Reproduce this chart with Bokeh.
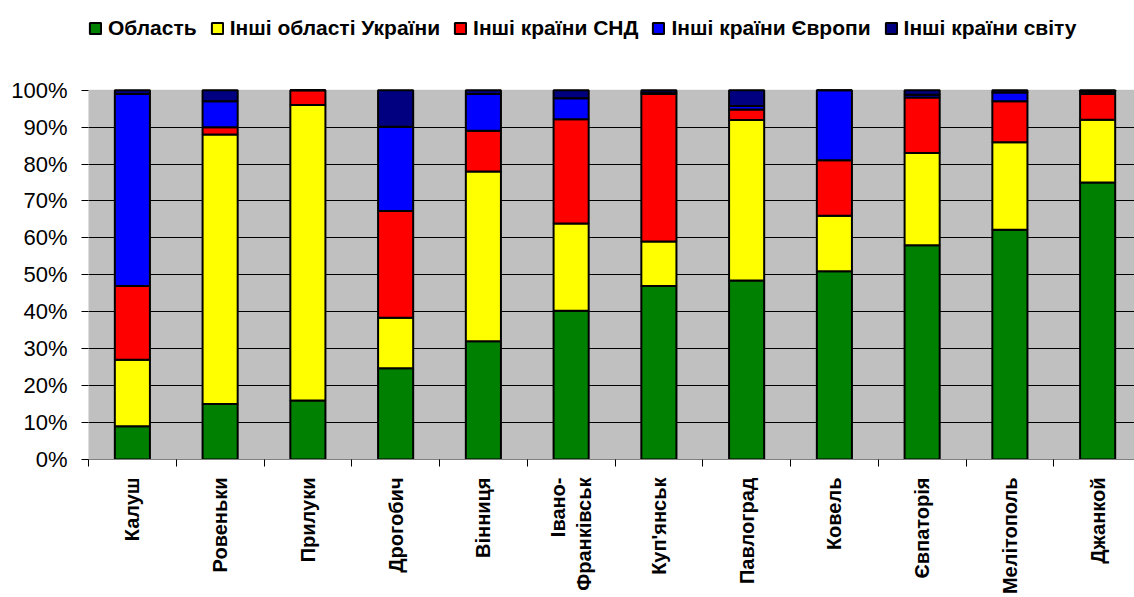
from bokeh.plotting import figure
from bokeh.models import FixedTicker, PrintfTickFormatter, Range1d, Legend, LegendItem, BoxAnnotation
from bokeh.embed import file_html
from bokeh.resources import INLINE
from math import pi

cities = ["Калуш", "Ровеньки", "Прилуки", "Дрогобич", "Вінниця", "Івано-\nФранківськ",
          "Куп'янськ", "Павлоград", "Ковель", "Євпаторія", "Мелітополь", "Джанкой"]
oblast = [9, 15, 16, 24.7, 32, 40.3, 47, 48.5, 51, 58, 62.2, 75]
ukraine = [18, 73, 80, 13.7, 46, 23.6, 12, 43.4, 15, 25, 23.7, 17]
snd = [20, 2, 4, 28.9, 11, 28.2, 40, 2.9, 15, 15, 11.1, 7]
europe = [52, 7, 0, 22.8, 10, 5.7, 0.3, 0.9, 19, 0.8, 2.4, 0.6]
world = [1, 3, 0, 9.9, 1, 2.2, 0.7, 4.3, 0, 1.2, 0.6, 0.4]
series_names = ["Область", "Інші області України", "Інші країни СНД", "Інші країни Європи", "Інші країни світу"]
colors = ["#008000", "#FFFF00", "#FF0000", "#0000FF", "#000080"]
y_ticks = list(range(0, 101, 10))
grid_ticks = list(range(10, 100, 10))

xs = [i + 0.5 for i in range(len(cities))]
data = dict(x=xs, s0=oblast, s1=ukraine, s2=snd, s3=europe, s4=world)
keys = ["s0", "s1", "s2", "s3", "s4"]

# the frame reaches up to the canvas top so that the legend can sit above the 100% line
Y_TOP = 100 * 458 / 368.5

p = figure(width=1134, height=597, output_backend="svg", toolbar_location=None,
           x_range=Range1d(0, 11.92), y_range=Range1d(0, Y_TOP),
           min_border_left=88, min_border_top=0, min_border_right=0, min_border_bottom=20,
           title_location=None)
p.background_fill_color = "white"
p.border_fill_color = "white"
p.outline_line_color = None

# grey plot area (0%..100%)
area = BoxAnnotation(bottom=0, top=100, fill_color="#C0C0C0", fill_alpha=1,
                     line_color="#808080", line_width=1, level="image")
p.add_layout(area)

rs = p.vbar_stack(keys, x="x", width=0.4, source=data, color=colors,
                  line_color="black", line_width=2)

# y axis
yax = p.yaxis[0]
yax.ticker = FixedTicker(ticks=y_ticks)
yax.formatter = PrintfTickFormatter(format="%d%%")
yax.major_tick_out = 7
yax.major_tick_in = 0
yax.minor_tick_out = 0
yax.axis_line_color = None
yax.major_tick_line_color = "black"
yax.major_label_text_font = "Liberation Sans"
yax.major_label_text_font_size = "22px"
yax.major_label_text_color = "black"
yax.major_label_standoff = 14

# x axis
xax = p.xaxis[0]
xax.ticker = FixedTicker(ticks=xs, minor_ticks=list(range(0, 13)))
xax.major_label_overrides = {x: c for x, c in zip(xs, cities)}
xax.major_tick_out = 0
xax.major_tick_in = 0
xax.minor_tick_out = 7
xax.minor_tick_in = 0
xax.minor_tick_line_color = "black"
xax.axis_line_color = "#808080"
xax.major_label_orientation = pi / 2
xax.major_label_text_font = "Liberation Sans"
xax.major_label_text_font_style = "bold"
xax.major_label_text_font_size = "20px"
xax.major_label_text_color = "black"
xax.major_label_standoff = 11

p.xgrid.visible = False
p.ygrid.ticker = FixedTicker(ticks=grid_ticks)
p.ygrid.grid_line_color = "black"
p.ygrid.grid_line_width = 1

lg = Legend(items=[LegendItem(label=n, renderers=[r]) for n, r in zip(series_names, rs)])
lg.orientation = "horizontal"
lg.location = (0, 458 - 27 - 12)
lg.label_text_font = "Liberation Sans"
lg.label_text_font_style = "bold"
lg.label_text_font_size = "21px"
lg.label_text_color = "black"
lg.glyph_width = 14
lg.glyph_height = 14
lg.label_standoff = 6
lg.spacing = 13
lg.padding = 0
lg.margin = 0
lg.border_line_color = None
lg.background_fill_alpha = 0
p.add_layout(lg)

open("out.html", "w").write(file_html(p, INLINE))
